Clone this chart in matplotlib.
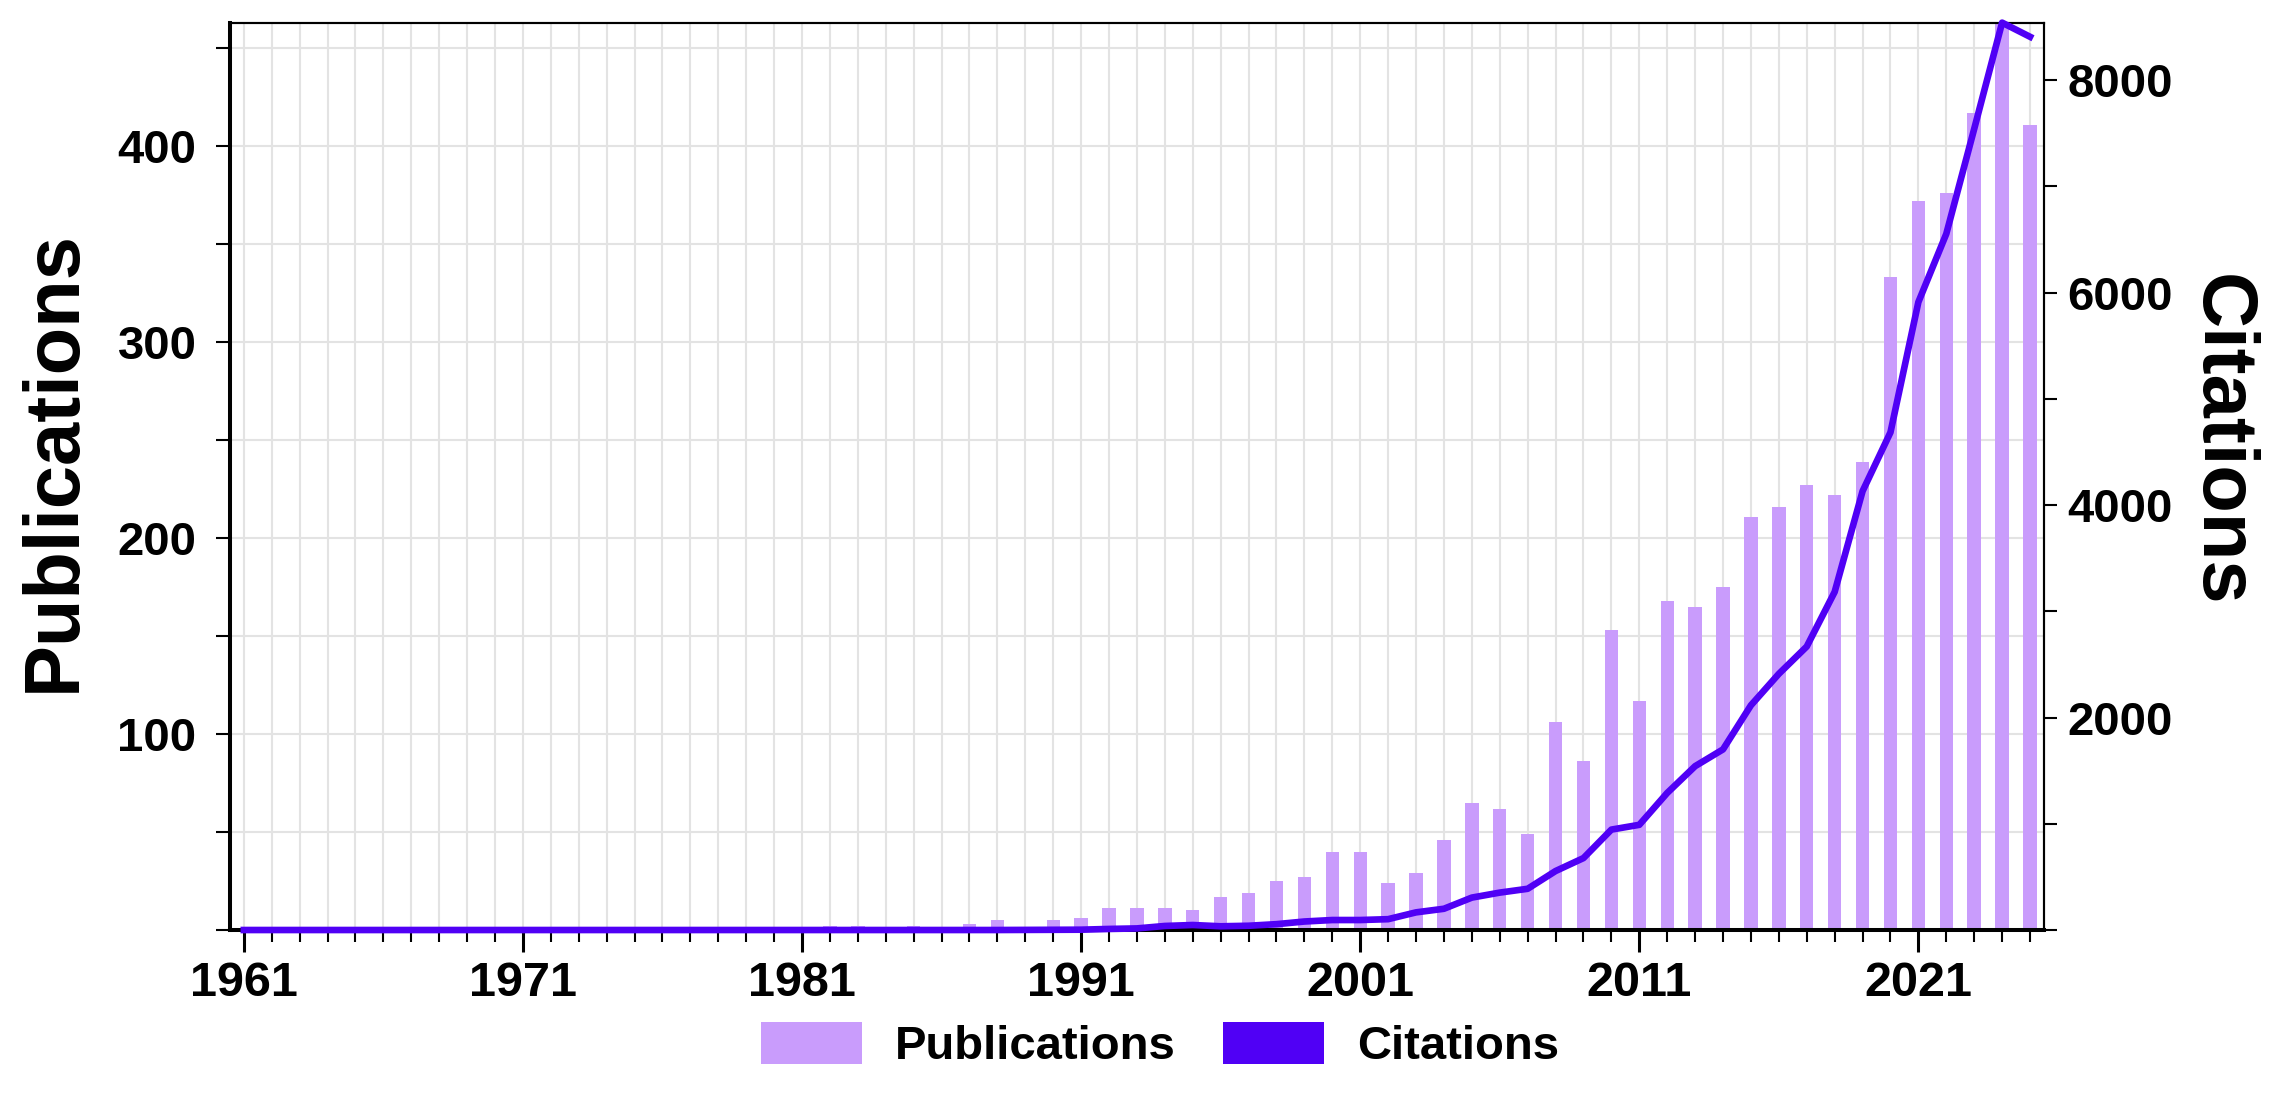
import matplotlib
matplotlib.use("Agg")
import matplotlib.pyplot as plt
from matplotlib.patches import Patch

plt.rcParams['font.family'] = ['Liberation Sans', 'DejaVu Sans']
plt.rcParams['font.weight'] = 'bold'

years = list(range(1961, 2026))

publications = [0] * 21 + [
    2, 2, 0, 2, 0, 3, 5, 0, 5, 6,            # 1982-1991
    11, 11, 11, 10, 17, 19, 25, 27, 40, 40,  # 1992-2001
    24, 29, 46, 65, 62, 49, 106, 86, 153, 117,  # 2002-2011
    168, 165, 175, 211, 216, 227, 222, 239, 333, 372,  # 2012-2021
    376, 417, 463, 411,                      # 2022-2025
]

citations = [0] * 28 + [
    1, 2, 3,                                  # 1989-1991
    10, 15, 38, 47, 35, 40, 55, 80, 94, 94,   # 1992-2001
    102, 166, 200, 305, 352, 388, 555, 677, 945, 990,  # 2002-2011
    1290, 1542, 1700, 2115, 2411, 2668, 3182, 4130, 4684, 5910,  # 2012-2021
    6552, 7540, 8540, 8407,                   # 2022-2025
]

x_labels = [1961, 1971, 1981, 1991, 2001, 2011, 2021]
pub_ticks = [0, 50, 100, 150, 200, 250, 300, 350, 400, 450]
pub_tick_labels = ['', '', '100', '', '200', '', '300', '', '400', '']
cit_ticks = [0, 1000, 2000, 3000, 4000, 5000, 6000, 7000, 8000]
cit_tick_labels = ['', '', '2000', '', '4000', '', '6000', '', '8000']

bar_color = '#C99CFC'
line_color = '#5000F5'

fig = plt.figure(figsize=(22.83, 10.94), dpi=100)
ax = fig.add_axes([0.1007, 0.1499, 0.7946, 0.8294])

ax.bar(years, publications, width=0.48, color=bar_color, zorder=2)
ax.set_xlim(1960.5, 2025.5)
ax.set_ylim(0, max(publications))

ax.set_xticks(x_labels)
ax.set_xticklabels([str(y) for y in x_labels])
ax.set_xticks(years, minor=True)
ax.set_yticks(pub_ticks)
ax.set_yticklabels(pub_tick_labels)

ax.set_axisbelow(True)
ax.grid(True, which='both', axis='x', color='#E3E3E3', linewidth=1.5)
ax.grid(True, which='major', axis='y', color='#E3E3E3', linewidth=1.5)

ax.tick_params(axis='x', which='major', length=16, width=2.2, pad=6, labelsize=35)
ax.tick_params(axis='x', which='minor', length=8.5, width=1.5)
ax.tick_params(axis='y', which='major', length=10, width=1.5, pad=14, labelsize=34)

for side in ['left', 'bottom']:
    ax.spines[side].set_linewidth(2.9)
for side in ['top', 'right']:
    ax.spines[side].set_linewidth(1.5)

ax.set_ylabel('Publications', fontsize=56, fontweight='bold', va='center')
ax.yaxis.set_label_coords(-0.097, 0.517)

ax2 = ax.twinx()
ax2.plot(years, citations, color=line_color, linewidth=4.8, zorder=3, clip_on=False)
ax2.set_ylim(0, max(citations))
ax2.set_yticks(cit_ticks)
ax2.set_yticklabels(cit_tick_labels)
ax2.tick_params(axis='y', which='major', length=9, width=1.5, pad=8, labelsize=34)
ax2.spines['right'].set_linewidth(1.5)
ax2.spines['top'].set_linewidth(1.5)
ax2.set_ylabel('Citations', fontsize=56, fontweight='bold', rotation=270, va='center')
ax2.yaxis.set_label_coords(1.097, 0.54)

handles = [Patch(facecolor=bar_color, edgecolor='none', label='Publications'),
           Patch(facecolor=line_color, edgecolor='none', label='Citations')]
fig.legend(handles=handles, loc='center', bbox_to_anchor=(0.508, 0.044), ncol=2,
           frameon=False, prop={'size': 34, 'weight': 'bold'},
           handlelength=2.14, handleheight=0.97, handletextpad=0.7,
           columnspacing=1.0, borderpad=0, borderaxespad=0)

fig.savefig('out.png', dpi=100)
